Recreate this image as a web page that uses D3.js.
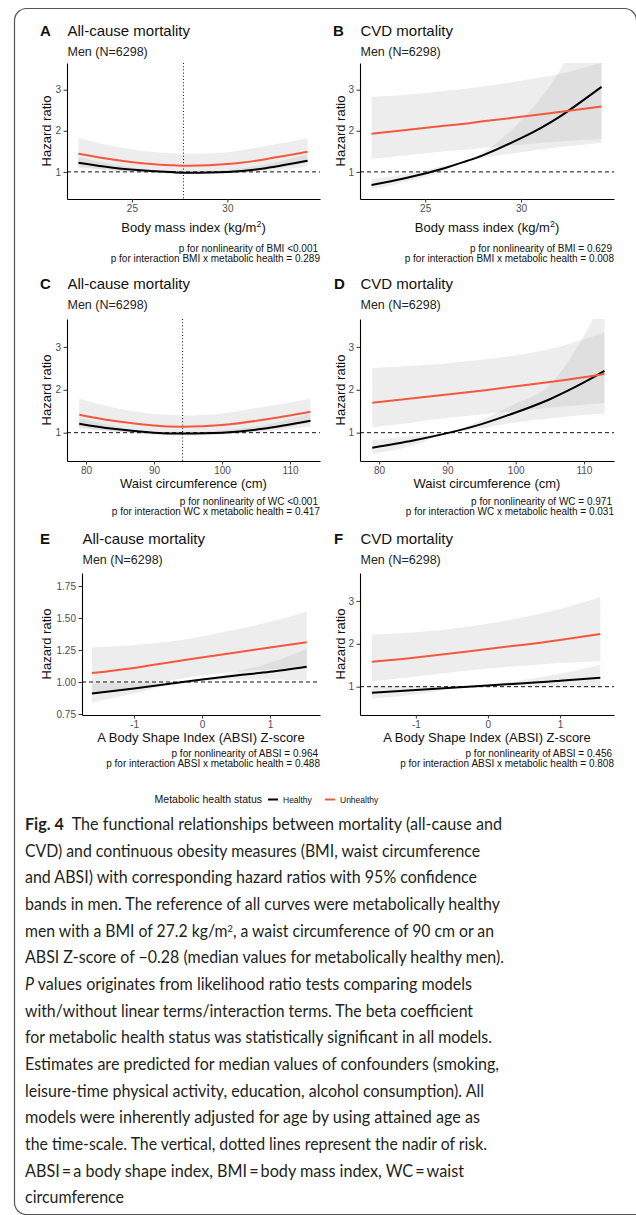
<!DOCTYPE html>
<html>
<head>
<meta charset="utf-8">
<script src="https://cdn.jsdelivr.net/npm/d3@7"></script>
<style>
body { margin: 0; background: #fff; }
svg text { font-family: "Liberation Sans", Arial, sans-serif; }
</style>
</head>
<body>
<script>
// ---- data ----
var bmiX = [22.2, 24, 26, 27.2, 28, 30, 32, 34.2];
var allBmiHealthy     = [1.22, 1.10, 1.02, 0.99, 0.98, 1.00, 1.09, 1.27];
var allBmiHealthyLo   = [1.10, 1.03, 1.00, 0.99, 0.97, 0.96, 1.01, 1.13];
var allBmiHealthyHi   = [1.36, 1.18, 1.05, 0.99, 0.99, 1.05, 1.18, 1.43];
var allBmiUnhealthy   = [1.44, 1.30, 1.19, 1.16, 1.15, 1.19, 1.31, 1.49];
var allBmiUnhealthyLo = [1.14, 1.04, 0.97, 0.95, 0.94, 0.97, 1.05, 1.22];
var allBmiUnhealthyHi = [1.83, 1.63, 1.49, 1.45, 1.44, 1.48, 1.63, 1.82];

var cvdBmiHealthy     = [0.68, 0.85, 1.09, 1.27, 1.40, 1.82, 2.34, 3.07];
var cvdBmiHealthyLo   = [0.57, 0.76, 1.03, 1.27, 1.34, 1.48, 1.60, 1.71];
var cvdBmiHealthyHi   = [0.82, 0.95, 1.15, 1.27, 1.47, 2.25, 3.45, 5.50];
var cvdBmiUnhealthy   = [1.93, 2.02, 2.12, 2.18, 2.23, 2.34, 2.46, 2.59];
var cvdBmiUnhealthyLo = [1.32, 1.40, 1.50, 1.54, 1.58, 1.66, 1.74, 1.80];
var cvdBmiUnhealthyHi = [2.83, 2.88, 2.97, 3.03, 3.08, 3.22, 3.38, 3.66];

var allWcX = [79, 84, 90, 94.2, 100, 106, 113];
var allWcHealthy     = [1.21, 1.09, 1.00, 0.98, 1.00, 1.09, 1.28];
var allWcHealthyLo   = [1.10, 1.03, 1.00, 0.96, 0.96, 1.02, 1.14];
var allWcHealthyHi   = [1.34, 1.16, 1.00, 1.00, 1.05, 1.17, 1.44];
var allWcUnhealthy   = [1.42, 1.28, 1.17, 1.14, 1.18, 1.30, 1.49];
var allWcUnhealthyLo = [1.13, 1.03, 0.95, 0.93, 0.96, 1.05, 1.23];
var allWcUnhealthyHi = [1.79, 1.59, 1.44, 1.40, 1.45, 1.60, 1.79];

var cvdWcX = [79, 85, 90, 95, 100, 105, 110, 113];
var cvdWcHealthy     = [0.65, 0.82, 0.99, 1.20, 1.47, 1.78, 2.17, 2.44];
var cvdWcHealthyLo   = [0.51, 0.70, 0.99, 1.10, 1.24, 1.33, 1.41, 1.44];
var cvdWcHealthyHi   = [0.83, 0.92, 0.99, 1.30, 1.68, 2.12, 3.26, 4.20];
var cvdWcUnhealthy   = [1.70, 1.80, 1.89, 1.98, 2.08, 2.18, 2.29, 2.37];
var cvdWcUnhealthyLo = [1.12, 1.24, 1.34, 1.43, 1.51, 1.58, 1.65, 1.69];
var cvdWcUnhealthyHi = [2.51, 2.56, 2.62, 2.70, 2.80, 2.95, 3.18, 3.33];

var allAbsiX = [-1.62, -1, -0.28, 0.5, 1, 1.54];
var allAbsiHealthy     = [0.91, 0.95, 1.00, 1.05, 1.08, 1.12];
var allAbsiHealthyLo   = [0.84, 0.91, 1.00, 1.02, 1.02, 1.01];
var allAbsiHealthyHi   = [0.99, 0.99, 1.00, 1.08, 1.15, 1.26];
var allAbsiUnhealthy   = [1.07, 1.11, 1.17, 1.23, 1.27, 1.31];
var allAbsiUnhealthyLo = [0.90, 0.95, 1.03, 1.08, 1.10, 1.11];
var allAbsiUnhealthyHi = [1.27, 1.29, 1.33, 1.41, 1.47, 1.55];

var cvdAbsiX = [-1.61, -1, -0.28, 0.5, 1, 1.56];
var cvdAbsiHealthy     = [0.86, 0.92, 1.00, 1.08, 1.14, 1.21];
var cvdAbsiHealthyLo   = [0.72, 0.82, 1.00, 1.02, 1.00, 0.98];
var cvdAbsiHealthyHi   = [1.02, 1.02, 1.00, 1.16, 1.30, 1.51];
var cvdAbsiUnhealthy   = [1.58, 1.68, 1.82, 1.98, 2.09, 2.23];
var cvdAbsiUnhealthyLo = [1.12, 1.24, 1.38, 1.49, 1.55, 1.60];
var cvdAbsiUnhealthyHi = [2.21, 2.27, 2.40, 2.62, 2.81, 3.09];

var bmiTicks = [25, 30];
var wcTicks = [80, 90, 100, 110];
var absiTicks = [-1, 0, 1];
var hrTicks = [1, 2, 3];
var hrTicksSmall = [0.75, 1.00, 1.25, 1.50, 1.75];

var pTexts = {
    A: ["p for nonlinearity of BMI <0.001", "p for interaction BMI x metabolic health = 0.289"],
    B: ["p for nonlinearity of BMI = 0.629", "p for interaction BMI x metabolic health = 0.008"],
    C: ["p for nonlinearity of WC <0.001", "p for interaction WC x metabolic health = 0.417"],
    D: ["p for nonlinearity of WC = 0.971", "p for interaction WC x metabolic health = 0.031"],
    E: ["p for nonlinearity of ABSI = 0.964", "p for interaction ABSI x metabolic health = 0.488"],
    F: ["p for nonlinearity of ABSI = 0.456", "p for interaction ABSI x metabolic health = 0.808"]
};

var redColor = "#f25a3c";

var rows = [
    { top: 63, bottom: 199, title: 35.5, sub: 56, xtitle: 232, p: 252 },
    { top: 319, bottom: 461, title: 289, sub: 309, xtitle: 488, p: 505 },
    { top: 573, bottom: 715, title: 544, sub: 564, xtitle: 742, p: 757 }
];

function rowsOf(xs, m, lo, hi) {
    return xs.map(function (x, i) { return { x: x, m: m[i], lo: lo[i], hi: hi[i] }; });
}

var panels = [
    { id: "A", title: "All-cause mortality", row: 0, left: 67, right: 320, labelX: 40,
      xDomain: [21.6, 34.85], yDomain: [0.34, 3.65], xTicks: bmiTicks, yTicks: hrTicks, xLabel: "bmi", nadir: 27.7,
      healthy: rowsOf(bmiX, allBmiHealthy, allBmiHealthyLo, allBmiHealthyHi),
      unhealthy: rowsOf(bmiX, allBmiUnhealthy, allBmiUnhealthyLo, allBmiUnhealthyHi) },
    { id: "B", title: "CVD mortality", row: 0, left: 360, right: 614, labelX: 333,
      xDomain: [21.6, 34.85], yDomain: [0.34, 3.65], xTicks: bmiTicks, yTicks: hrTicks, xLabel: "bmi",
      healthy: rowsOf(bmiX, cvdBmiHealthy, cvdBmiHealthyLo, cvdBmiHealthyHi),
      unhealthy: rowsOf(bmiX, cvdBmiUnhealthy, cvdBmiUnhealthyLo, cvdBmiUnhealthyHi) },
    { id: "C", title: "All-cause mortality", row: 1, left: 67, right: 320, labelX: 40,
      xDomain: [77.2, 114.4], yDomain: [0.34, 3.65], xTicks: wcTicks, yTicks: hrTicks, xLabel: "Waist circumference (cm)", nadir: 94.2,
      healthy: rowsOf(allWcX, allWcHealthy, allWcHealthyLo, allWcHealthyHi),
      unhealthy: rowsOf(allWcX, allWcUnhealthy, allWcUnhealthyLo, allWcUnhealthyHi) },
    { id: "D", title: "CVD mortality", row: 1, left: 360, right: 614, labelX: 334,
      xDomain: [77.2, 114.4], yDomain: [0.34, 3.65], xTicks: wcTicks, yTicks: hrTicks, xLabel: "Waist circumference (cm)",
      healthy: rowsOf(cvdWcX, cvdWcHealthy, cvdWcHealthyLo, cvdWcHealthyHi),
      unhealthy: rowsOf(cvdWcX, cvdWcUnhealthy, cvdWcUnhealthyLo, cvdWcUnhealthyHi) },
    { id: "E", title: "All-cause mortality", row: 2, left: 82, right: 320, labelX: 40,
      xDomain: [-1.765, 1.735], yDomain: [0.742, 1.852], xTicks: absiTicks, yTicks: hrTicksSmall, yFormat: ".2f",
      xLabel: "A Body Shape Index (ABSI) Z-score",
      healthy: rowsOf(allAbsiX, allAbsiHealthy, allAbsiHealthyLo, allAbsiHealthyHi),
      unhealthy: rowsOf(allAbsiX, allAbsiUnhealthy, allAbsiUnhealthyLo, allAbsiUnhealthyHi) },
    { id: "F", title: "CVD mortality", row: 2, left: 360, right: 614, labelX: 334,
      xDomain: [-1.775, 1.75], yDomain: [0.34, 3.65], xTicks: absiTicks, yTicks: hrTicks, xLabel: "A Body Shape Index (ABSI) Z-score",
      healthy: rowsOf(cvdAbsiX, cvdAbsiHealthy, cvdAbsiHealthyLo, cvdAbsiHealthyHi),
      unhealthy: rowsOf(cvdAbsiX, cvdAbsiUnhealthy, cvdAbsiUnhealthyLo, cvdAbsiUnhealthyHi) }
];

var svg = d3.select("body").append("svg")
    .attr("width", 636)
    .attr("height", 1215);

// frame around the figure
svg.append("path")
    .attr("d", "M637,1214.5 H26.5 A12,12 0 0 1 14.5,1202.5 V20.5 A12,12 0 0 1 26.5,8.5 H624.5 A12,12 0 0 1 636.5,20.5")
    .attr("fill", "none")
    .attr("stroke", "#555")
    .attr("stroke-width", 1.2);

panels.forEach(function (p) {
    var r = rows[p.row];
    var x = d3.scaleLinear().domain(p.xDomain).range([p.left, p.right]);
    var y = d3.scaleLinear().domain(p.yDomain).range([r.bottom, r.top]);
    var g = svg.append("g");

    // headings
    g.append("text").attr("x", p.labelX).attr("y", r.title)
        .attr("font-size", 15).attr("font-weight", "bold").attr("fill", "#111").text(p.id);
    g.append("text").attr("x", p.left + 0.5).attr("y", r.title)
        .attr("font-size", 15).attr("fill", "#111").text(p.title);
    g.append("text").attr("x", p.left + 0.5).attr("y", r.sub)
        .attr("font-size", 12.5).attr("fill", "#222").text("Men (N=6298)");

    var clipId = "clip" + p.id;
    svg.append("clipPath").attr("id", clipId).append("rect")
        .attr("x", p.left).attr("y", r.top)
        .attr("width", p.right - p.left).attr("height", r.bottom - r.top);
    var plot = g.append("g").attr("clip-path", "url(#" + clipId + ")");

    var band = d3.area().curve(d3.curveMonotoneX)
        .x(function (d) { return x(d.x); })
        .y0(function (d) { return y(d.lo); })
        .y1(function (d) { return y(d.hi); });
    var line = d3.line().curve(d3.curveNatural)
        .x(function (d) { return x(d.x); })
        .y(function (d) { return y(d.m); });

    [p.healthy, p.unhealthy].forEach(function (s) {
        plot.append("path").datum(s).attr("d", band)
            .attr("fill", "#b3b3b3").attr("fill-opacity", 0.24);
    });

    // reference lines
    plot.append("line")
        .attr("x1", p.left).attr("x2", p.right)
        .attr("y1", y(1)).attr("y2", y(1))
        .attr("stroke", "#111").attr("stroke-width", 1).attr("stroke-dasharray", "4,3");
    if (p.nadir) {
        plot.append("line")
            .attr("x1", x(p.nadir)).attr("x2", x(p.nadir))
            .attr("y1", r.top).attr("y2", r.bottom)
            .attr("stroke", "#111").attr("stroke-width", 1).attr("stroke-dasharray", "1,2.2");
    }

    plot.append("path").datum(p.healthy).attr("d", line)
        .attr("fill", "none").attr("stroke", "#000").attr("stroke-width", 2);
    plot.append("path").datum(p.unhealthy).attr("d", line)
        .attr("fill", "none").attr("stroke", redColor).attr("stroke-width", 2);

    // axes
    var xAxis = g.append("g").attr("transform", "translate(0," + r.bottom + ")")
        .call(d3.axisBottom(x).tickValues(p.xTicks).tickSize(3.5).tickSizeOuter(0).tickPadding(2.5)
            .tickFormat(function (d) { return String(d); }));
    var yAxis = g.append("g").attr("transform", "translate(" + p.left + ",0)")
        .call(d3.axisLeft(y).tickValues(p.yTicks).tickSize(3.5).tickSizeOuter(0).tickPadding(2.5)
            .tickFormat(p.yFormat ? d3.format(p.yFormat) : function (d) { return String(d); }));
    [xAxis, yAxis].forEach(function (a) {
        a.select(".domain").attr("stroke", "#000").attr("stroke-width", 1.1);
        a.selectAll(".tick line").attr("stroke", "#333");
        a.selectAll(".tick text").attr("fill", "#4d4d4d").attr("font-size", 10)
            .attr("font-family", "Liberation Sans, Arial, sans-serif");
    });

    // axis titles
    var cx = (p.left + p.right) / 2;
    var xt = g.append("text").attr("x", cx).attr("y", r.xtitle)
        .attr("text-anchor", "middle").attr("font-size", 13).attr("fill", "#111");
    if (p.xLabel === "bmi") {
        xt.append("tspan").text("Body mass index (kg/m");
        xt.append("tspan").attr("font-size", 9).attr("dy", -5).text("2");
        xt.append("tspan").attr("dy", 5).text(")");
    } else {
        xt.text(p.xLabel);
    }
    var yx = p.left < 200 ? 50.5 : 344.5;
    g.append("text")
        .attr("transform", "translate(" + yx + "," + ((r.top + r.bottom) / 2) + ") rotate(-90)")
        .attr("text-anchor", "middle").attr("font-size", 13).attr("fill", "#111")
        .text("Hazard ratio");

    // p values
    pTexts[p.id].forEach(function (t, i) {
        g.append("text").attr("x", p.right - (i === 0 ? 2 : 0)).attr("y", r.p + i * 10)
            .attr("text-anchor", "end").attr("font-size", 10).attr("fill", "#111").text(t);
    });
});

// legend
var legend = svg.append("g");
legend.append("text").attr("x", 262).attr("y", 803).attr("text-anchor", "end")
    .attr("font-size", 10.5).attr("fill", "#111").text("Metabolic health status");
legend.append("line").attr("x1", 268).attr("x2", 278).attr("y1", 799.5).attr("y2", 799.5)
    .attr("stroke", "#000").attr("stroke-width", 2);
legend.append("text").attr("x", 283).attr("y", 802.5).attr("font-size", 8.5).attr("fill", "#111").text("Healthy");
legend.append("line").attr("x1", 325).attr("x2", 335).attr("y1", 799.5).attr("y2", 799.5)
    .attr("stroke", redColor).attr("stroke-width", 2);
legend.append("text").attr("x", 340).attr("y", 802.5).attr("font-size", 8.5).attr("fill", "#111").text("Unhealthy");

// caption
var captionLines = [
    { parts: [["Fig. 4", "b"], ["  The functional relationships between mortality (all-cause and"]], right: 502 },
    { parts: [["CVD) and continuous obesity measures (BMI, waist circumference"]], right: 480 },
    { parts: [["and ABSI) with corresponding hazard ratios with 95% confidence"]], right: 477 },
    { parts: [["bands in men. The reference of all curves were metabolically healthy"]], right: 500 },
    { parts: [["men with a BMI of 27.2 kg/m"], ["2", "sup"], [", a waist circumference of 90 cm or an", "down"]], right: 494 },
    { parts: [["ABSI Z-score of \u22120.28 (median values for metabolically healthy men)."]], right: 504 },
    { parts: [["P", "i"], [" values originates from likelihood ratio tests comparing models"]], right: 472 },
    { parts: [["with/without linear terms/interaction terms. The beta coefficient"]], right: 473 },
    { parts: [["for metabolic health status was statistically significant in all models."]], right: 492 },
    { parts: [["Estimates are predicted for median values of confounders (smoking,"]], right: 499 },
    { parts: [["leisure-time physical activity, education, alcohol consumption). All"]], right: 484 },
    { parts: [["models were inherently adjusted for age by using attained age as"]], right: 480 },
    { parts: [["the time-scale. The vertical, dotted lines represent the nadir of risk."]], right: 487 },
    { parts: [["ABSI\u2009=\u2009a body shape index, BMI\u2009=\u2009body mass index, WC\u2009=\u2009waist"]], right: 464 },
    { parts: [["circumference"]], right: 124 }
];

var caption = svg.append("g");
captionLines.forEach(function (ln, i) {
    var t = caption.append("text")
        .attr("x", 25).attr("y", 830 + i * 26.67)
        .attr("font-size", 17).attr("fill", "#231f20")
        .style("font-family", "Lato, 'Noto Sans', sans-serif")
        .attr("xml:space", "preserve")
        .attr("textLength", ln.right - 25)
        .attr("lengthAdjust", "spacingAndGlyphs");
    ln.parts.forEach(function (pt) {
        var s = t.append("tspan").text(pt[0]);
        if (pt[1] === "b") s.attr("font-weight", "bold");
        if (pt[1] === "i") s.attr("font-style", "italic");
        if (pt[1] === "sup") s.attr("font-size", 10).attr("dy", -5);
        if (pt[1] === "down") s.attr("dy", 5);
    });
});
</script>
</body>
</html>
